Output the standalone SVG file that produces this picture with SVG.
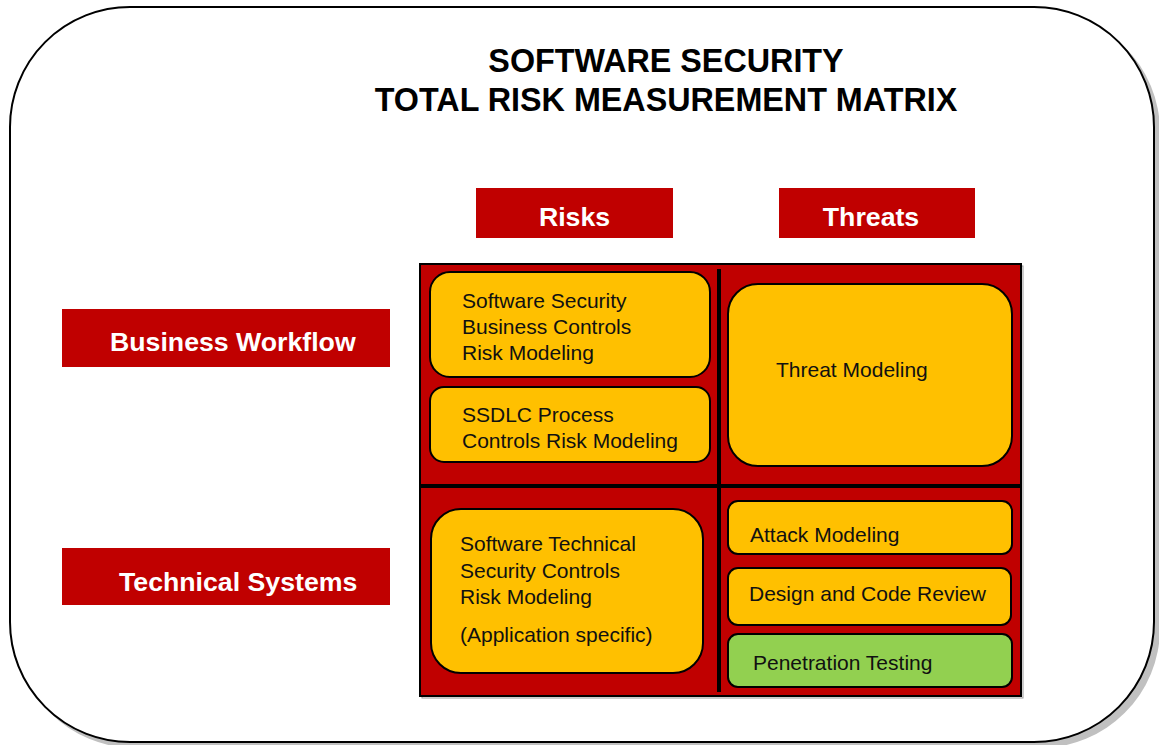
<svg xmlns="http://www.w3.org/2000/svg" width="1159" height="745" viewBox="0 0 1159 745">
<style>
.title{font-family:"Liberation Sans",Arial,sans-serif;font-weight:bold;font-size:32.3px;fill:#000;text-anchor:middle}
.hdr{fill:#C00000}
.hdrt{font-family:"Liberation Sans",Arial,sans-serif;font-weight:bold;font-size:26.7px;fill:#fff}
.box{fill:#FFC000;stroke:#000;stroke-width:2}
.green{fill:#92D050;stroke:#000;stroke-width:2}
.t{font-family:"Liberation Sans",Arial,sans-serif;font-size:21px;fill:#111}
.div{stroke:#000;stroke-width:4}
</style>
<rect x="0" y="0" width="1159" height="745" fill="#fff"/>
<g id="frame">
<rect x="15" y="12" width="1145" height="736" rx="120" ry="120" fill="#C0C0C0"/>
<rect x="10" y="7" width="1144" height="735" rx="120" ry="120" fill="#fff" stroke="#000" stroke-width="2"/>
</g>
<g id="title">
<text class="title" x="666" y="72">SOFTWARE SECURITY</text>
<text class="title" x="666" y="111">TOTAL RISK MEASUREMENT MATRIX</text>
</g>
<g id="risks"><rect class="hdr" x="476" y="188" width="197" height="50"/><text class="hdrt" x="574.5" y="226" text-anchor="middle">Risks</text></g>
<g id="threats"><rect class="hdr" x="779" y="188" width="196" height="50"/><text class="hdrt" x="871" y="226" text-anchor="middle">Threats</text></g>
<g id="business-workflow"><rect class="hdr" x="62" y="309" width="328" height="58"/><text class="hdrt" x="110" y="351">Business Workflow</text></g>
<g id="technical-systems"><rect class="hdr" x="62" y="548" width="328" height="57"/><text class="hdrt" x="119" y="591">Technical Systems</text></g>
<g id="matrix">
<rect x="422" y="266" width="601" height="432" fill="none" stroke="#999" stroke-width="1"/>
<rect x="420" y="264" width="601" height="432" fill="#C00000" stroke="#000" stroke-width="2"/>
</g>
<g id="connectors">
<line class="div" x1="719" y1="269" x2="719" y2="692"/>
<line class="div" x1="420" y1="486" x2="1021" y2="486"/>
</g>
<g id="business-controls">
<rect class="box" x="430" y="272" width="280" height="105" rx="20" ry="20"/>
<text class="t" x="462" y="308">Software Security</text>
<text class="t" x="462" y="334">Business Controls</text>
<text class="t" x="462" y="360">Risk Modeling</text>
</g>
<g id="ssdlc">
<rect class="box" x="430" y="387" width="280" height="75" rx="14" ry="14"/>
<text class="t" x="462" y="422">SSDLC Process</text>
<text class="t" x="462" y="448">Controls Risk Modeling</text>
</g>
<g id="threat-modeling">
<rect class="box" x="728" y="284" width="284" height="182" rx="30" ry="30"/>
<text class="t" x="776" y="377">Threat Modeling</text>
</g>
<g id="technical-controls">
<rect class="box" x="431" y="509" width="272" height="164" rx="30" ry="30"/>
<text class="t" x="460" y="551">Software Technical</text>
<text class="t" x="460" y="578">Security Controls</text>
<text class="t" x="460" y="604">Risk Modeling</text>
<text class="t" x="460" y="642">(Application specific)</text>
</g>
<g id="attack-modeling">
<rect class="box" x="728" y="501" width="284" height="53" rx="10" ry="10"/>
<text class="t" x="750" y="542">Attack Modeling</text>
</g>
<g id="design-code-review">
<rect class="box" x="728" y="568" width="283" height="57" rx="10" ry="10"/>
<text class="t" x="749" y="601">Design and Code Review</text>
</g>
<g id="penetration-testing">
<rect class="green" x="728" y="634" width="284" height="53" rx="10" ry="10"/>
<text class="t" x="753" y="670">Penetration Testing</text>
</g>
</svg>
